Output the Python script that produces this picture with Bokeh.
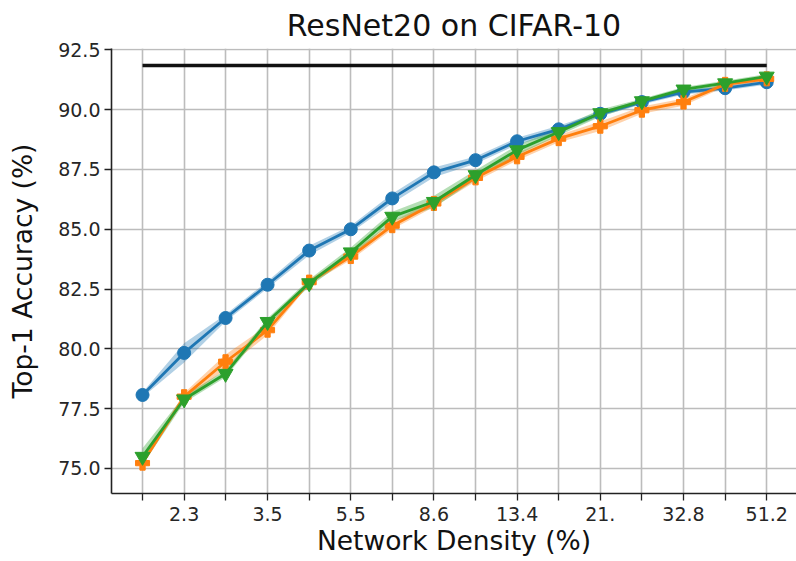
from bokeh.plotting import figure
from bokeh.embed import file_html
from bokeh.resources import INLINE
from bokeh.models import FixedTicker, PrintfTickFormatter, Range1d

# ---- data ----
density = [1.80, 2.25, 2.81, 3.52, 4.40, 5.50, 6.87, 8.59, 10.74, 13.42,
           16.78, 20.97, 26.21, 32.77, 40.96, 51.20]
density_labels = ["", "2.3", "", "3.5", "", "5.5", "", "8.6", "", "13.4",
                  "", "21.", "", "32.8", "", "51.2"]

blue_mean = [78.07, 79.83, 81.29, 82.68, 84.11, 85.00, 86.29, 87.38, 87.89, 88.68,
             89.18, 89.83, 90.32, 90.74, 90.90, 91.15]
blue_std = [0.10, 0.40, 0.15, 0.15, 0.20, 0.15, 0.20, 0.20, 0.15, 0.15,
            0.15, 0.10, 0.10, 0.10, 0.10, 0.10]

orange_mean = [75.22, 78.00, 79.46, 80.78, 82.79, 83.86, 85.15, 86.08, 87.15, 88.03,
               88.79, 89.31, 89.98, 90.32, 91.06, 91.29]
orange_std = [0.10, 0.15, 0.30, 0.20, 0.10, 0.15, 0.15, 0.15, 0.15, 0.15,
              0.15, 0.20, 0.15, 0.15, 0.10, 0.10]

green_mean = [75.49, 77.89, 78.96, 81.13, 82.75, 84.04, 85.53, 86.15, 87.27, 88.31,
              89.07, 89.86, 90.36, 90.85, 91.11, 91.39]
green_std = [0.35, 0.15, 0.15, 0.15, 0.15, 0.20, 0.20, 0.25, 0.20, 0.20,
             0.15, 0.15, 0.10, 0.10, 0.10, 0.10]

dense_accuracy = 91.85
y_ticks = [75.0, 77.5, 80.0, 82.5, 85.0, 87.5, 90.0, 92.5]

BLUE, ORANGE, GREEN = "#1f77b4", "#ff7f0e", "#2ca02c"
FONT = "DejaVu Sans"

p = figure(width=796, height=561, output_backend="svg", toolbar_location=None,
           x_axis_type="log",
           x_range=Range1d(1.524, 60.07), y_range=Range1d(73.95, 92.56),
           min_border_left=111, min_border_right=0, min_border_top=46,
           min_border_bottom=68, title="ResNet20 on CIFAR-10")
p.outline_line_color = None
p.background_fill_color = "white"
p.border_fill_color = "white"

p.title.text_font = FONT
p.title.text_font_size = "30px"
p.title.text_font_style = "normal"
p.title.align = "center"
p.title.text_color = "#111111"
p.title.standoff = 11

# grids
p.xgrid.ticker = FixedTicker(ticks=density)
p.ygrid.ticker = FixedTicker(ticks=y_ticks)
for g in (p.xgrid, p.ygrid):
    g.grid_line_color = "#bcbcbc"
    g.grid_line_width = 1.6

# axes
p.xaxis.ticker = FixedTicker(ticks=density, minor_ticks=[])
p.xaxis.major_label_overrides = {d: lab for d, lab in zip(density, density_labels)}
p.yaxis.ticker = FixedTicker(ticks=y_ticks, minor_ticks=[])
p.yaxis.formatter = PrintfTickFormatter(format="%.1f")
p.xaxis.axis_label = "Network Density (%)"
p.yaxis.axis_label = "Top-1 Accuracy (%)"
for ax in (p.xaxis, p.yaxis):
    ax.axis_line_color = "#222222"
    ax.axis_line_width = 1.6
    ax.major_tick_line_color = "#222222"
    ax.major_tick_line_width = 1.3
    ax.major_tick_out = 7
    ax.major_tick_in = 0
    ax.minor_tick_out = 0
    ax.minor_tick_in = 0
    ax.major_label_text_font = FONT
    ax.major_label_text_font_size = "19px"
    ax.major_label_text_color = "#262626"
    ax.axis_label_text_font = FONT
    ax.axis_label_text_font_size = "26.5px"
    ax.axis_label_text_font_style = "normal"
    ax.axis_label_text_color = "#111111"
p.xaxis.major_label_standoff = 6
p.yaxis.major_label_standoff = 4
p.xaxis.axis_label_standoff = 1
p.yaxis.axis_label_standoff = 17

# dense baseline
p.line([density[0], density[-1]], [dense_accuracy, dense_accuracy],
       line_color="#111111", line_width=3.5)

series = [
    (blue_mean, blue_std, BLUE, "circle", 13),
    (orange_mean, orange_std, ORANGE, "plus", 14),
    (green_mean, green_std, GREEN, "inverted_triangle", 15),
]
for mean, std, col, marker, size in series:
    lo = [m - s for m, s in zip(mean, std)]
    hi = [m + s for m, s in zip(mean, std)]
    p.varea(x=density, y1=lo, y2=hi, fill_color=col, fill_alpha=0.35)
for mean, std, col, marker, size in series:
    p.line(density, mean, line_color=col, line_width=2.8)
    p.scatter(density, mean, marker=marker, size=size, fill_color=col,
              line_color=col, line_width=1)

open("out.html", "w").write(file_html(p, INLINE))
